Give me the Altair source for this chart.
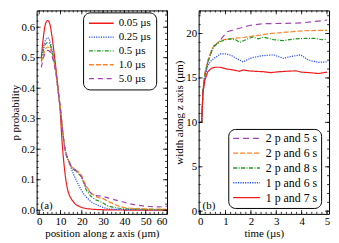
import altair as alt
import pandas as pd

FONT = "Liberation Serif, Times New Roman, serif"
FS = 11
W, H = 132, 206

# ---------------- panel (a): probability vs position ----------------
left_series = ["0.05 µs", "0.25 µs", "0.5 µs", "1.0 µs", "5.0 µs"]
left_colors = ["#f01a1a", "#2b4ef0", "#1f961f", "#ff8224", "#a444b4"]
left_dashes = [[1, 0], [1.2, 1.2], [4, 1.5, 1, 1.5], [5, 2], [5, 4]]

pos_a1 = [1, 2, 3, 4, 5, 6, 7, 8, 9, 10, 10.5, 11, 11.7, 12.5, 13.1, 14, 15, 16, 17, 19, 21, 24, 28, 35, 45, 60]
p_a1 = [0.50, 0.57, 0.612, 0.622, 0.61, 0.57, 0.515, 0.455, 0.39, 0.31, 0.25, 0.20, 0.147, 0.10, 0.075,
        0.052, 0.038, 0.028, 0.02, 0.012, 0.007, 0.004, 0.002, 0.001, 0.0005, 0.0003]

pos_a2 = [1, 2, 3, 4, 5, 6, 7, 8, 9, 10, 11, 12, 13, 14, 15, 16, 17, 18, 19, 20, 21, 22, 23, 24, 25, 27, 29, 31, 33, 36, 40, 50, 60]
p_a2 = [0.50, 0.535, 0.558, 0.565, 0.555, 0.525, 0.49, 0.443, 0.385, 0.33, 0.26, 0.205, 0.174, 0.155, 0.138,
        0.12, 0.104, 0.09, 0.076, 0.063, 0.052, 0.044, 0.037, 0.03, 0.025, 0.018, 0.012, 0.007, 0.004, 0.003,
        0.002, 0.0015, 0.001]

pos_a3 = [1, 2, 3, 4, 5, 6, 7, 8, 9, 10, 11, 12, 13, 14, 15, 16, 17, 18, 19, 20, 21, 22, 23, 24, 25, 26, 28, 30, 32, 34, 36, 40, 45, 50, 60]
p_a3 = [0.49, 0.525, 0.545, 0.55, 0.545, 0.52, 0.49, 0.443, 0.385, 0.33, 0.26, 0.205, 0.176, 0.16, 0.143,
        0.135, 0.128, 0.122, 0.116, 0.105, 0.088, 0.068, 0.058, 0.048, 0.042, 0.036, 0.03, 0.024, 0.015,
        0.011, 0.008, 0.005, 0.004, 0.003, 0.002]

pos_a4 = [1, 2, 3, 4, 5, 6, 7, 8, 9, 10, 11, 12, 13, 14, 15, 16, 17, 18, 19, 20, 21, 22, 23, 24, 25, 26, 28, 30, 32, 34, 36, 38, 40, 44, 48, 52, 56, 60]
p_a4 = [0.485, 0.51, 0.53, 0.535, 0.53, 0.51, 0.485, 0.443, 0.385, 0.33, 0.26, 0.205, 0.176, 0.16, 0.145,
        0.138, 0.133, 0.128, 0.122, 0.112, 0.095, 0.08, 0.07, 0.06, 0.053, 0.048, 0.041, 0.038, 0.03,
        0.024, 0.017, 0.012, 0.009, 0.006, 0.005, 0.004, 0.004, 0.003]

pos_a5 = [1, 2, 3, 4, 5, 6, 7, 8, 9, 10, 11, 12, 13, 14, 15, 16, 17, 18, 19, 20, 21, 22, 23, 24, 25, 27, 29, 31, 33, 35, 38, 41, 44, 47, 50, 53, 56, 60]
p_a5 = [0.468, 0.50, 0.518, 0.524, 0.52, 0.505, 0.48, 0.443, 0.385, 0.33, 0.26, 0.205, 0.176, 0.16, 0.145,
        0.138, 0.132, 0.125, 0.118, 0.108, 0.092, 0.076, 0.066, 0.058, 0.052, 0.048, 0.046, 0.043, 0.039,
        0.035, 0.03, 0.024, 0.019, 0.016, 0.013, 0.012, 0.011, 0.013]

# ---------------- panel (b): width vs time ----------------
right_series = ["2 p and 5 s", "2 p and 6 s", "2 p and 8 s", "1 p and 6 s", "1 p and 7 s"]
right_colors = ["#a444b4", "#ff8224", "#1f961f", "#2b4ef0", "#f01a1a"]
right_dashes = [[6, 4], [5, 2], [4, 1.5, 1, 1.5], [1.2, 1.2], [1, 0]]

t_b1 = [0, 0.06, 0.11, 0.18, 0.3, 0.45, 0.55, 0.8, 1.06, 1.43, 1.94, 2.44, 3.4, 4.0, 4.66, 5.0]
w_b1 = [10, 10, 13.5, 15.3, 16.8, 18.0, 18.5, 19.3, 20.2, 20.5, 20.9, 21.1, 21.15, 21.2, 21.4, 21.5]

t_b2 = [0, 0.06, 0.11, 0.18, 0.3, 0.45, 0.55, 0.8, 1.0, 1.3, 1.7, 2.06, 2.44, 2.77, 3.4, 4.0, 4.66, 5.0]
w_b2 = [10, 10, 13.6, 15.5, 17.0, 18.1, 18.7, 19.2, 19.35, 19.45, 19.55, 19.7, 19.85, 20.0, 20.15, 20.3, 20.35, 20.35]

t_b3 = [0, 0.06, 0.11, 0.18, 0.3, 0.45, 0.55, 0.8, 1.0, 1.18, 1.4, 1.56, 1.8, 2.06, 2.3, 2.5, 2.9, 3.27, 3.77, 4.15, 4.5, 4.8, 5.0]
w_b3 = [10, 10, 13.5, 15.2, 16.7, 18.0, 18.6, 19.1, 19.3, 19.4, 19.3, 19.0, 19.3, 19.6, 19.4, 19.6, 19.3, 19.2, 19.4, 19.45, 19.45, 19.3, 19.35]

t_b4 = [0, 0.06, 0.11, 0.18, 0.3, 0.45, 0.55, 0.8, 1.05, 1.25, 1.43, 1.69, 1.9, 2.06, 2.44, 2.9, 3.27, 3.55, 3.77, 3.95, 4.28, 4.66, 5.0]
w_b4 = [10, 10, 13.3, 14.9, 16.4, 17.0, 17.2, 17.7, 17.7, 17.5, 17.2, 16.8, 17.1, 17.3, 17.5, 17.6, 17.2, 17.4, 17.5, 17.6, 17.0, 16.75, 16.8]

t_b5 = [0, 0.06, 0.11, 0.18, 0.3, 0.45, 0.6, 0.8, 1.05, 1.3, 1.55, 1.7, 1.9, 2.14, 2.5, 2.77, 3.1, 3.4, 3.77, 4.0, 4.3, 4.66, 5.0]
w_b5 = [10, 10, 13.3, 14.7, 15.7, 16.1, 16.2, 16.2, 16.0, 15.9, 15.75, 15.9, 15.8, 15.75, 15.7, 15.6, 15.7, 15.75, 15.8, 15.65, 15.6, 15.5, 15.65]

# tick values
a_x_major = [0, 10, 20, 30, 40, 50, 60]
a_x_minor = list(range(0, 61, 2))
a_y_major = [0.0, 0.1, 0.2, 0.3, 0.4, 0.5, 0.6]
a_y_minor = [round(i * 0.02, 2) for i in range(0, 33)]
b_x_major = [0, 1, 2, 3, 4, 5]
b_x_minor = [round(i * 0.2, 1) for i in range(0, 26)]
b_y_major = [0, 5, 10, 15, 20]
b_y_minor = list(range(0, 23))


def long_df(names, xs, ys, xname, yname):
    rows = []
    for n, xv, yv in zip(names, xs, ys):
        for j, (a, b) in enumerate(zip(xv, yv)):
            rows.append({xname: a, yname: b, "series": n, "order": j})
    return pd.DataFrame(rows)


def panel(df, xname, yname, xscale, yscale, xaxis, yaxis, xtitle, ytitle,
          names, colors, dashes, legend, interp, label, xmaj, xmin, ymaj, ymin):
    X = lambda f: alt.X(f, scale=xscale, axis=xaxis, title=xtitle)
    Y = lambda f: alt.Y(f, scale=yscale, axis=yaxis, title=ytitle)
    lines = alt.Chart(df).mark_line(strokeWidth=1.2, interpolate=interp, clip=True).encode(
        x=X(f"{xname}:Q"),
        y=Y(f"{yname}:Q"),
        color=alt.Color("series:N", scale=alt.Scale(domain=names, range=colors), legend=legend),
        strokeDash=alt.StrokeDash("series:N", scale=alt.Scale(domain=names, range=dashes), legend=legend),
        order="order:Q",
    )
    layers = [lines]
    for vals, ln in ((xmin, 2), (xmaj, 4)):
        d = pd.DataFrame({"v": vals})
        layers.append(alt.Chart(d).mark_rule(color="black", strokeWidth=0.8).encode(
            x=X("v:Q"), y=alt.value(H), y2=alt.value(H - ln)))
        layers.append(alt.Chart(d).mark_rule(color="black", strokeWidth=0.8).encode(
            x=X("v:Q"), y=alt.value(0), y2=alt.value(ln)))
    for vals, ln in ((ymin, 2), (ymaj, 4)):
        d = pd.DataFrame({"v": vals})
        layers.append(alt.Chart(d).mark_rule(color="black", strokeWidth=0.8).encode(
            y=Y("v:Q"), x=alt.value(0), x2=alt.value(ln)))
        layers.append(alt.Chart(d).mark_rule(color="black", strokeWidth=0.8).encode(
            y=Y("v:Q"), x=alt.value(W), x2=alt.value(W - ln)))
    txt = alt.Chart(pd.DataFrame({"t": [label]})).mark_text(
        align="left", baseline="bottom", font=FONT, fontSize=FS, color="black").encode(
        x=alt.value(4), y=alt.value(H - 3), text="t:N")
    layers.append(txt)
    return alt.layer(*layers).properties(width=W, height=H)


common_axis = dict(ticks=False, domain=False, grid=False, labelPadding=2, titlePadding=1)

df_a = long_df(left_series, [pos_a1, pos_a2, pos_a3, pos_a4, pos_a5],
               [p_a1, p_a2, p_a3, p_a4, p_a5], "pos", "p")
df_b = long_df(right_series, [t_b1, t_b2, t_b3, t_b4, t_b5],
               [w_b1, w_b2, w_b3, w_b4, w_b5], "t", "w")

legend_common = dict(title=None, strokeColor="black", cornerRadius=7, fillColor="white",
                     symbolType="stroke", symbolStrokeWidth=1.4,
                     labelFont=FONT, labelColor="black", orient="none")

left = panel(
    df_a, "pos", "p",
    alt.Scale(domain=[-1.2, 60], nice=False, zero=False),
    alt.Scale(domain=[-0.012, 0.655], nice=False, zero=False),
    alt.Axis(values=a_x_major, format="d", **common_axis),
    alt.Axis(values=a_y_major, format=".1f", **common_axis),
    "position along z axis (µm)", "p probability",
    left_series, left_colors, left_dashes,
    alt.Legend(legendX=W - 85, legendY=2, symbolSize=625, labelFontSize=FS, padding=5,
               labelOffset=4, rowPadding=2, clipHeight=12, **legend_common),
    "monotone", "(a)", a_x_major, a_x_minor, a_y_major, a_y_minor,
)

right = panel(
    df_b, "t", "w",
    alt.Scale(domain=[-0.06, 5.08], nice=False, zero=False),
    alt.Scale(domain=[-0.3, 22.6], nice=False, zero=False),
    alt.Axis(values=b_x_major, format="d", **common_axis),
    alt.Axis(values=b_y_major, format="d", **common_axis),
    "time (µs)", "width along z axis (µm)",
    right_series, right_colors, right_dashes,
    alt.Legend(legendX=W - 102, legendY=H - 86, symbolSize=729, labelFontSize=12, padding=4,
               labelOffset=5, rowPadding=2, clipHeight=11, **legend_common),
    "linear", "(b)", b_x_major, b_x_minor, b_y_major, b_y_minor,
)

chart = alt.hconcat(left, right, spacing=5).resolve_scale(
    color="independent", strokeDash="independent", x="independent", y="independent"
).resolve_legend(color="independent", strokeDash="independent").properties(
    padding=0, background="white"
).configure_view(stroke="black", strokeWidth=1).configure_axis(
    labelFont=FONT, labelFontSize=FS, labelColor="black",
    titleFont=FONT, titleFontSize=FS, titleFontWeight="normal", titleColor="black",
)

chart.save("out.html", embed_options={"renderer": "svg", "actions": False})
